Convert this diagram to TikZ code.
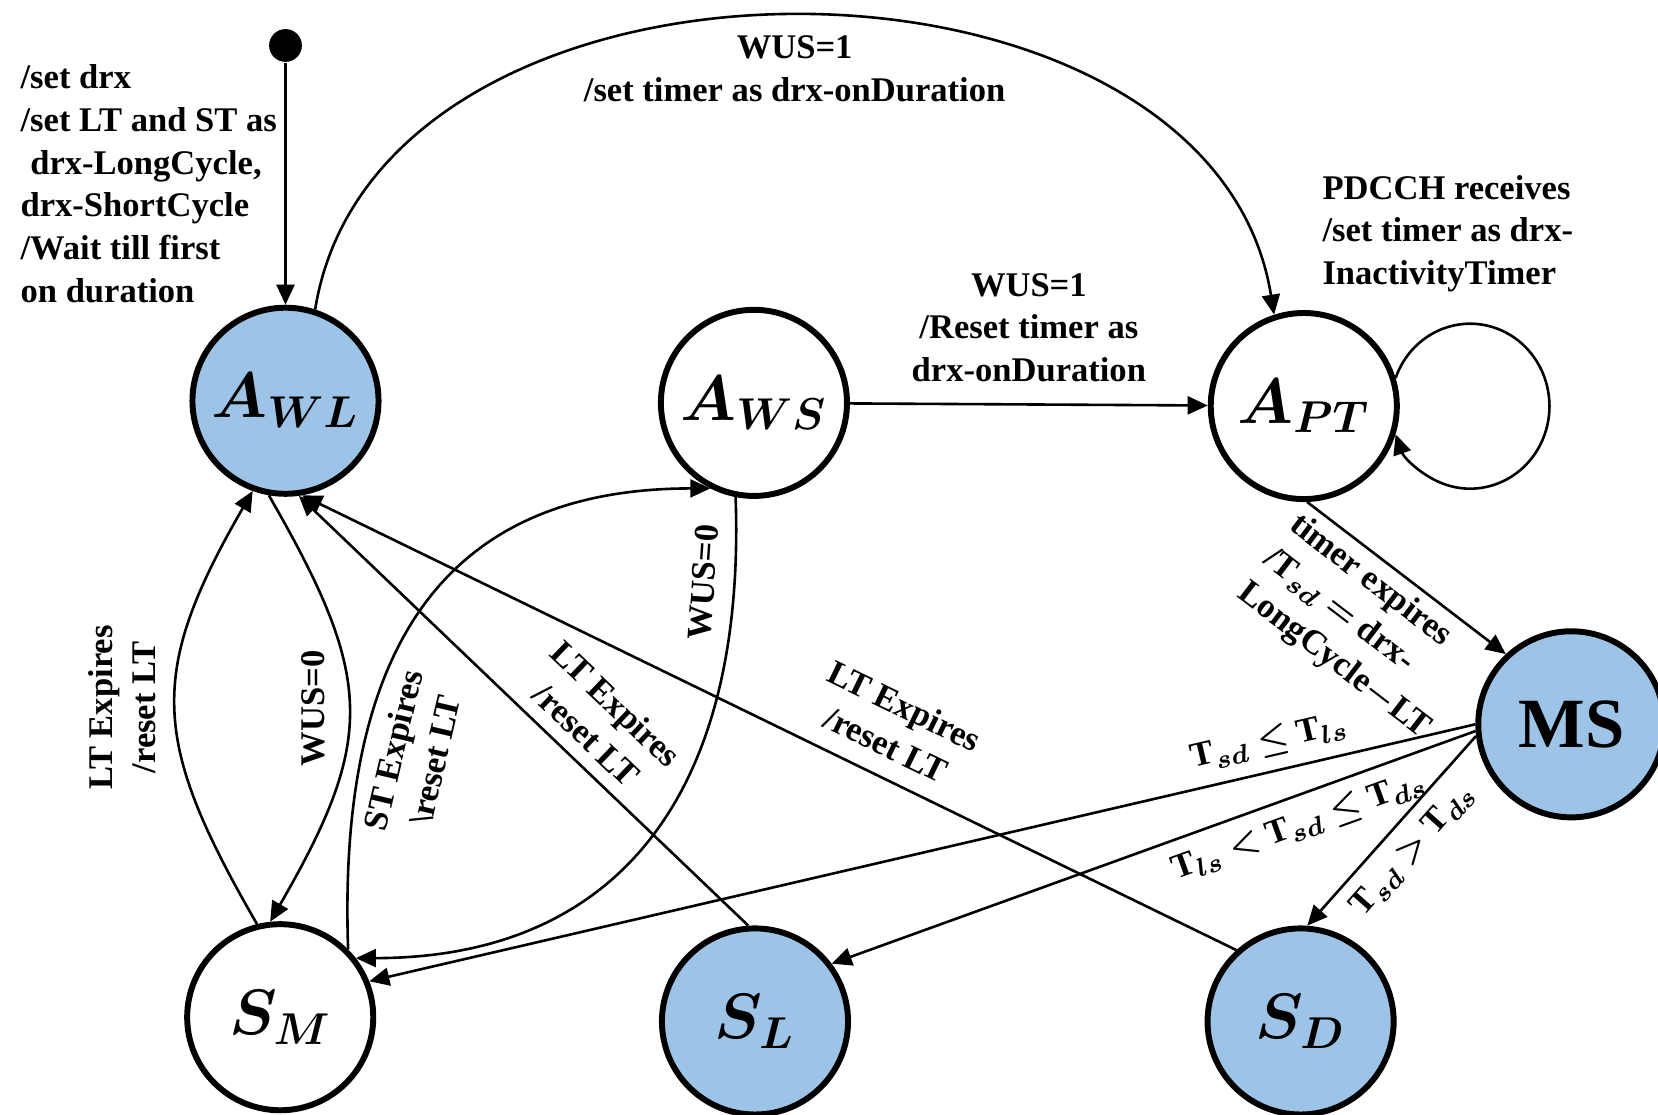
\documentclass[tikz,border=0pt]{standalone}
\usepackage{amsmath, bm}
\usepackage{fontspec}
\setmainfont{Liberation Serif}
\usepackage{xcolor}
\usetikzlibrary{positioning, arrows.meta, shapes.geometric}

\definecolor{stateblue}{HTML}{9DC3E6}

\begin{document}
\begin{tikzpicture}[
  bluestate/.style={circle, draw, line width=1.6pt, fill=stateblue, minimum size=1.76cm, inner sep=0pt, font=\fontsize{17}{20}\selectfont},
  whitestate/.style={bluestate, fill=white},
  startdot/.style={circle, fill=black, minimum size=0.31cm, inner sep=0pt},
  trans/.style={-{Triangle[length=0.19cm, width=0.17cm]}, line width=0.7pt},
  lbl/.style={font=\fontsize{9.3}{11.5}\selectfont\bfseries, align=center, inner sep=2pt},
]
\useasboundingbox (0,0) rectangle (15.68,-10.54);

%% ── States ───────────────────────────────────────────────────────────────────
\node[startdot]   (init) at (2.70,-0.43) {};
\node[bluestate]  (awl)  at (2.70,-3.79) {$\bm{A_{WL}}$};
\node[whitestate] (aws)  at (7.13,-3.81) {$\bm{A_{WS}}$};
\node[whitestate] (apt)  at (12.33,-3.84) {$\bm{A_{PT}}$};
\node[bluestate, font=\fontsize{19}{22}\selectfont\bfseries] (ms) at (14.86,-6.85) {MS};
\node[whitestate] (sm)   at (2.65,-9.62) {$\bm{S_{M}}$};
\node[bluestate]  (sl)   at (7.14,-9.66) {$\bm{S_{L}}$};
\node[bluestate]  (sd)   at (12.30,-9.66) {$\bm{S_{D}}$};

%% ── Initial transition ───────────────────────────────────────────────────────
\draw[trans] (init) -- node[midway, left, lbl, align=left]
  {/set drx\\/set LT and ST as\\\hspace*{2.6pt}drx-LongCycle,\\drx-ShortCycle\\/Wait till first\\on duration} (awl);

%% ── Active transitions ───────────────────────────────────────────────────────
\draw[trans] (awl.72) .. controls +(0.6,3.73) and +(-0.6,3.73) ..
  node[midway, below=1mm, lbl] {WUS=1\\/set timer as drx-onDuration} (apt.108);
\draw[trans] (aws) -- node[above=1.3mm, lbl] {WUS=1\\/Reset timer as\\drx-onDuration} (apt);
\draw[trans] (apt.17) arc[start angle=160, end angle=-160, x radius=0.75, y radius=0.78];
\node[lbl, align=left, anchor=north west] (pdcch) at (12.43,-1.58)
  {PDCCH receives\\/set timer as drx-\\InactivityTimer};
\draw[trans] (apt.-88) -- node[sloped, below, pos=0.47, lbl, align=left]
  {timer expires\\/$\mathbf{T}_{\bm{sd}}\bm{=}$ drx-\\LongCycle$\bm{-}$LT} (ms.133);

%% ── Sleep decisions from MS ──────────────────────────────────────────────────
\draw[trans] (ms.180) -- node[sloped, above=0.5mm, pos=0.18, lbl]
  {$\mathbf{T}_{\bm{sd}}\bm{\leq}\mathbf{T}_{\bm{ls}}$} (sm.22);
\draw[trans] (ms.184) -- node[sloped, below=0.5mm, pos=0.29, lbl]
  {$\mathbf{T}_{\bm{ls}}\bm{<}\mathbf{T}_{\bm{sd}}\bm{\leq}\mathbf{T}_{\bm{ds}}$} (sl.37);
\draw[trans] (ms.187) -- node[sloped, below=0.5mm, pos=0.5, lbl]
  {$\mathbf{T}_{\bm{sd}}\bm{>}\mathbf{T}_{\bm{ds}}$} (sd.86);

%% ── Wake-up and expiry transitions ───────────────────────────────────────────
\draw[trans] (sm.104) .. controls +(120:2.0) and +(-120:2.0) ..
  node[lbl, midway, rotate=90, anchor=south, inner ysep=5pt] {LT Expires\\/reset LT} (awl.250);
\draw[trans] (awl.260) .. controls +(-60:2.0) and +(60:2.0) ..
  node[lbl, midway, rotate=90, anchor=south, inner ysep=6pt] {WUS=0} (sm.96);
\draw[trans] (sm.45) .. controls +(92:3.0) and +(180:2.4) ..
  node[pos=0.25, sloped, below=0.8mm, lbl] {ST Expires\\\textbackslash reset LT} (aws.243);
\draw[trans] (aws.259) .. controls +(-88:2.9) and +(0:2.4) ..
  node[pos=0.1, sloped, above=1mm, lbl] {WUS=0} (sm.38);
\draw[trans] (sl.94) -- node[sloped, above=0.5mm, pos=0.40, lbl] {LT Expires\\/reset LT} (awl.-82);
\draw[trans] (sd.132) -- node[sloped, above=1mm, pos=0.39, lbl] {LT Expires\\/reset LT} (awl.-80);

\end{tikzpicture}
\end{document}
